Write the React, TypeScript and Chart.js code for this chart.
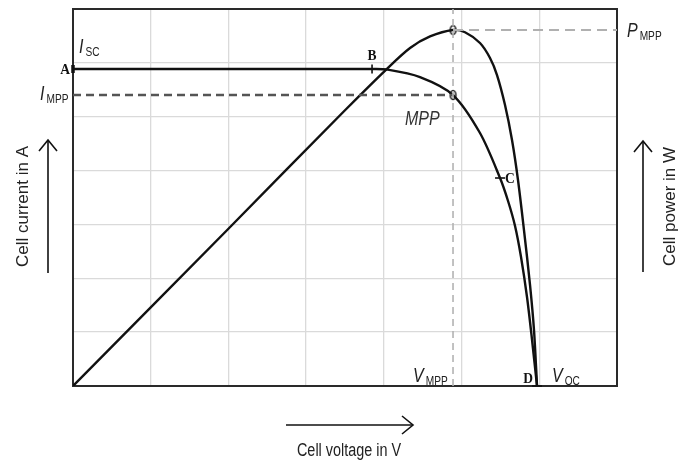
import React, { useEffect, useRef } from "react";
import { Chart, registerables } from "chart.js";

Chart.register(...registerables);

// I-V curve (voltage in grid units, current in grid units)
const ivVoltage = [0, 1, 2, 3, 3.848, 4.041, 4.465, 4.89, 5.237, 5.495, 5.598, 5.688, 5.765, 5.842, 5.907, 5.971];
const ivCurrent = [5.886, 5.886, 5.886, 5.886, 5.886, 5.876, 5.736, 5.403, 4.697, 3.862, 3.435, 2.971, 2.395, 1.652, 0.854, 0];

// P-V curve
const pvVoltage = [0, 2, 3.5, 4.04, 4.337, 4.594, 4.89, 5.044, 5.237, 5.366, 5.456, 5.559, 5.649, 5.726, 5.803, 5.881, 5.932, 5.971];
const pvPower = [0, 2.92, 5.12, 5.89, 6.276, 6.49, 6.61, 6.568, 6.368, 6.09, 5.774, 5.217, 4.567, 3.825, 2.896, 1.875, 1.04, 0];

// Key points
const vMpp = 4.89;
const iMpp = 5.403;
const pMpp = 6.61;
const iSc = 5.886;
const vB = 3.848;
const vC = 5.495;
const iC = 3.862;
const vOc = 5.971;

const axisMax = 7;
const gridStep = 1;

const FONT_SANS = '"Liberation Sans", Arial, sans-serif';
const FONT_SERIF = '"Liberation Serif", "Times New Roman", serif';

function makeEllipse(): HTMLCanvasElement {
  const c = document.createElement("canvas");
  c.width = 9;
  c.height = 12;
  const g = c.getContext("2d")!;
  g.fillStyle = "#ffffff";
  g.strokeStyle = "#1a1a1a";
  g.lineWidth = 1.6;
  g.beginPath();
  g.ellipse(4.5, 6, 2.8, 4.5, 0, 0, Math.PI * 2);
  g.fill();
  g.stroke();
  return c;
}

function txt(
  ctx: CanvasRenderingContext2D,
  s: string,
  x: number,
  y: number,
  font: string,
  align: CanvasTextAlign = "left",
  sx = 0.8,
  color = "#222"
) {
  ctx.save();
  ctx.translate(x, y);
  ctx.scale(sx, 1);
  ctx.font = font;
  ctx.fillStyle = color;
  ctx.textAlign = align;
  ctx.textBaseline = "alphabetic";
  ctx.fillText(s, 0, 0);
  const w = ctx.measureText(s).width * sx;
  ctx.restore();
  return w;
}

function subLabel(ctx: CanvasRenderingContext2D, main: string, sub: string, x: number, y: number) {
  const w = txt(ctx, main, x, y, `italic 20px ${FONT_SANS}`, "left", 0.8);
  txt(ctx, sub, x + w + 2, y + 3, `13px ${FONT_SANS}`, "left", 0.78);
}

function arrow(ctx: CanvasRenderingContext2D, x1: number, y1: number, x2: number, y2: number) {
  const ang = Math.atan2(y2 - y1, x2 - x1);
  const back = 11;
  const side = 9;
  ctx.save();
  ctx.strokeStyle = "#111";
  ctx.lineWidth = 1.6;
  ctx.beginPath();
  ctx.moveTo(x1, y1);
  ctx.lineTo(x2, y2);
  ctx.stroke();
  const bx = x2 - back * Math.cos(ang);
  const by = y2 - back * Math.sin(ang);
  const px = -Math.sin(ang) * side;
  const py = Math.cos(ang) * side;
  ctx.beginPath();
  ctx.moveTo(bx + px, by + py);
  ctx.lineTo(x2, y2);
  ctx.lineTo(bx - px, by - py);
  ctx.stroke();
  ctx.restore();
}

const decor = {
  id: "decor",
  beforeDatasetsDraw(chart: any) {
    const { ctx, chartArea: a } = chart;
    ctx.save();
    ctx.strokeStyle = "#2a2a2a";
    ctx.lineWidth = 2;
    ctx.strokeRect(a.left, a.top, a.right - a.left, a.bottom - a.top);
    ctx.restore();
  },
  afterDraw(chart: any) {
    const { ctx, chartArea: a } = chart;
    const xs = chart.scales.x;
    const ys = chart.scales.y;
    const X = (v: number) => xs.getPixelForValue(v);
    const Y = (v: number) => ys.getPixelForValue(v);

    // Serif point letters
    const serif = `bold 15px ${FONT_SERIF}`;
    txt(ctx, "A", a.left - 3, Y(iSc) + 5, serif, "right", 0.9, "#111");
    txt(ctx, "B", X(vB), Y(iSc) - 9, serif, "center", 0.9, "#111");
    txt(ctx, "C", X(vC) + 5, Y(iC) + 5, serif, "left", 0.9, "#111");
    txt(ctx, "D", X(vOc) - 4, a.bottom - 3, serif, "right", 0.9, "#111");

    // Symbol labels
    subLabel(ctx, "I", "SC", a.left + 6, Y(iSc) - 16);
    subLabel(ctx, "I", "MPP", a.left - 33, Y(iMpp) + 5);
    subLabel(ctx, "P", "MPP", a.right + 10, Y(pMpp) + 7);
    subLabel(ctx, "V", "MPP", X(vMpp) - 40, a.bottom - 4);
    subLabel(ctx, "V", "OC", X(vOc) + 15, a.bottom - 4);
    txt(ctx, "MPP", X(vMpp) - 48, Y(iMpp) + 30, `italic 20px ${FONT_SANS}`, "left", 0.8, "#333");

    // Axis titles with arrows
    const cy = (a.top + a.bottom) / 2 + 9;
    ctx.save();
    ctx.translate(23, cy);
    ctx.rotate(-Math.PI / 2);
    ctx.font = `17px ${FONT_SANS}`;
    ctx.fillStyle = "#222";
    ctx.textAlign = "center";
    ctx.textBaseline = "middle";
    ctx.fillText("Cell current in A", 0, 0);
    ctx.restore();

    ctx.save();
    ctx.translate(670, cy);
    ctx.rotate(-Math.PI / 2);
    ctx.font = `17px ${FONT_SANS}`;
    ctx.fillStyle = "#222";
    ctx.textAlign = "center";
    ctx.textBaseline = "middle";
    ctx.fillText("Cell power in W", 0, 0);
    ctx.restore();

    arrow(ctx, 48, 273, 48, 140);
    arrow(ctx, 643, 272, 643, 141);
    arrow(ctx, 286, 425, 413, 425);
    txt(ctx, "Cell voltage in V", 349, 456, `18px ${FONT_SANS}`, "center", 0.8, "#222");
  },
};

function pts(xs: number[], ys: number[]) {
  return xs.map((x, i) => ({ x, y: ys[i] }));
}

export default function App() {
  const ref = useRef<HTMLCanvasElement | null>(null);

  useEffect(() => {
    if (!ref.current) return;
    const ellipse = makeEllipse();
    const chart = new Chart(ref.current, {
      type: "scatter",
      data: {
        datasets: [
          {
            data: [{ x: vMpp, y: 0 }, { x: vMpp, y: axisMax }],
            showLine: true,
            borderColor: "#b3b3b3",
            borderDash: [7, 5],
            borderWidth: 1.6,
            pointRadius: 0,
          },
          {
            data: [{ x: vMpp, y: pMpp }, { x: axisMax, y: pMpp }],
            showLine: true,
            borderColor: "#b0b0b0",
            borderDash: [10, 6],
            borderWidth: 2,
            pointRadius: 0,
          },
          {
            data: [{ x: 0, y: iMpp }, { x: vMpp, y: iMpp }],
            showLine: true,
            borderColor: "#555555",
            borderDash: [8, 5],
            borderWidth: 2.5,
            pointRadius: 0,
          },
          {
            data: pts(pvVoltage, pvPower),
            showLine: true,
            borderColor: "#111111",
            borderWidth: 2.4,
            pointRadius: 0,
            tension: 0.3,
          },
          {
            data: pts(ivVoltage, ivCurrent),
            showLine: true,
            borderColor: "#111111",
            borderWidth: 2.4,
            pointRadius: 0,
            tension: 0.3,
          },
          {
            data: [{ x: vMpp, y: pMpp }, { x: vMpp, y: iMpp }],
            showLine: false,
            pointStyle: ellipse as any,
            pointRadius: 5,
          },
          {
            data: [
              { x: 0, y: iSc },
              { x: vB, y: iSc },
              { x: vC, y: iC },
              { x: vOc, y: 0 },
            ],
            showLine: false,
            clip: false as any,
            pointStyle: "line",
            pointRadius: [4, 4.5, 5, 5] as any,
            pointRotation: [90, 90, 0, 0] as any,
            pointBorderWidth: [3.5, 1.6, 1.6, 1.6] as any,
            borderColor: "#111111",
            pointBorderColor: "#111111",
          },
        ],
      },
      options: {
        responsive: false,
        animation: false,
        devicePixelRatio: 1,
        layout: { padding: { left: 73, top: 9, right: 71, bottom: 76 } },
        plugins: { legend: { display: false }, tooltip: { enabled: false } },
        scales: {
          x: {
            type: "linear",
            min: 0,
            max: axisMax,
            ticks: { display: false, stepSize: gridStep },
            grid: { color: "#dadada", lineWidth: 1.3, drawTicks: false },
            border: { display: false },
            afterFit: (s: any) => {
              s.height = 0;
            },
          },
          y: {
            type: "linear",
            min: 0,
            max: axisMax,
            ticks: { display: false, stepSize: gridStep },
            grid: { color: "#dadada", lineWidth: 1.3, drawTicks: false },
            border: { display: false },
            afterFit: (s: any) => {
              s.width = 0;
            },
          },
        },
      },
      plugins: [decor],
    } as any);
    return () => chart.destroy();
  }, []);

  return (
    <div style={{ position: "fixed", left: 0, top: 0, width: 688, height: 462, background: "#fff" }}>
      <canvas ref={ref} width={688} height={462} style={{ display: "block" }} />
    </div>
  );
}
